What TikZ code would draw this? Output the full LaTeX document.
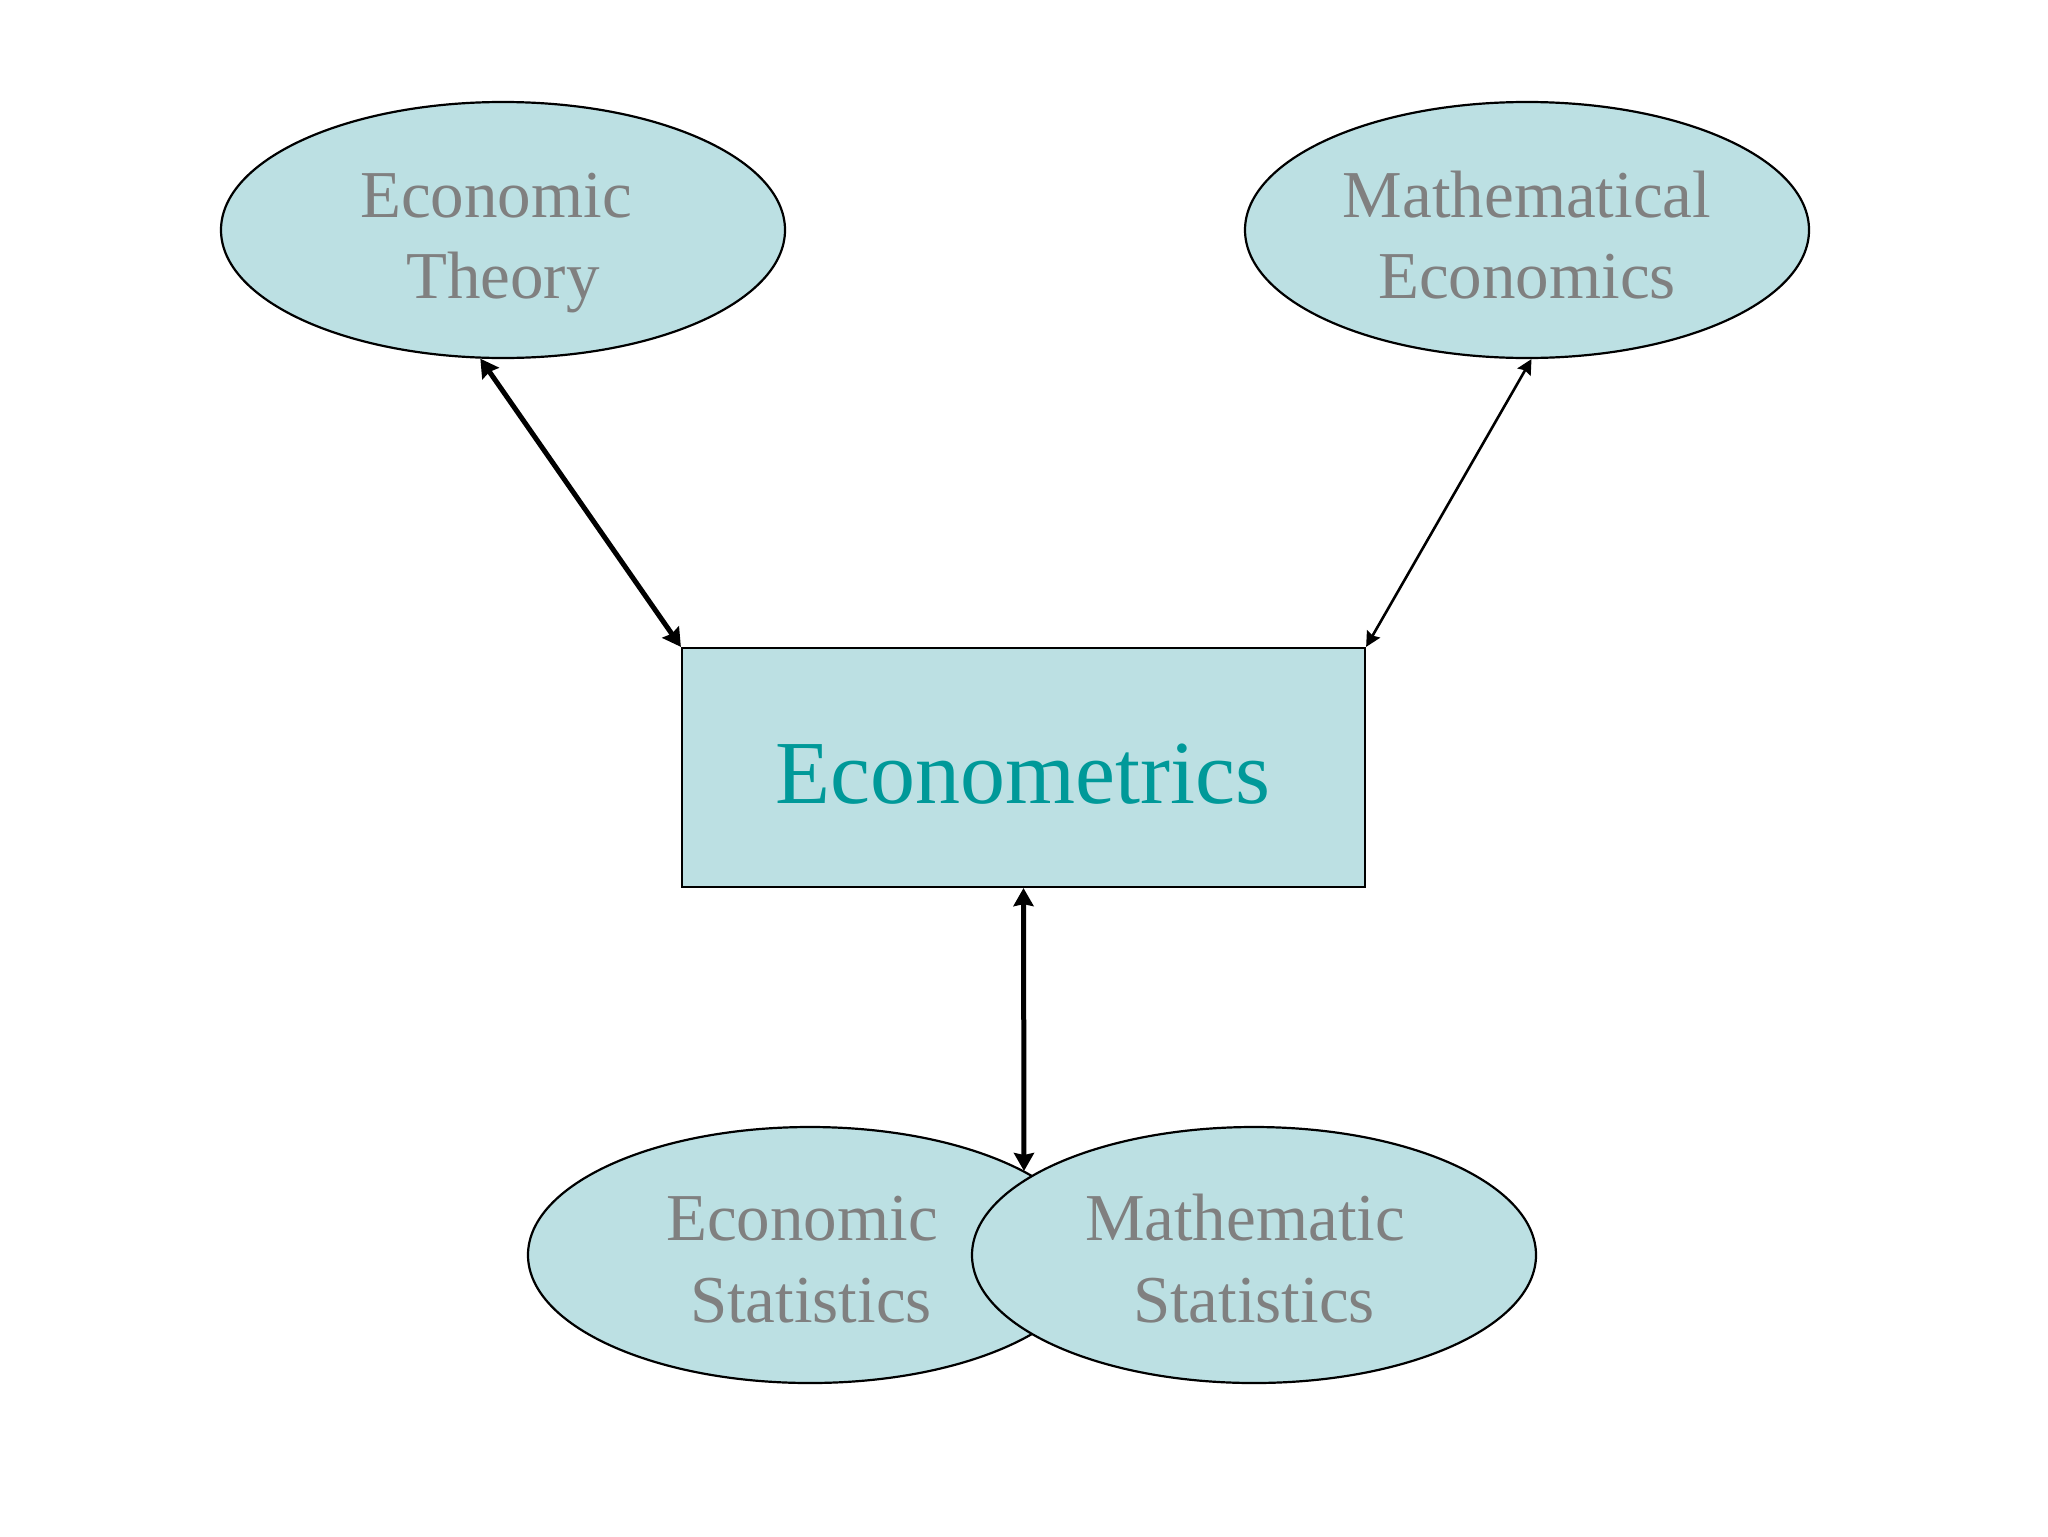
\documentclass[tikz,border=0pt]{standalone}
\usepackage{fontspec}
\setmainfont{Liberation Serif}
\usetikzlibrary{arrows.meta,shapes.geometric}
\definecolor{fillc}{RGB}{188,224,227}
\definecolor{txtgray}{RGB}{128,128,128}
\definecolor{tealtxt}{RGB}{0,153,153}
\begin{document}
\begin{tikzpicture}[x=0.5pt,y=-0.5pt,
  oval/.style={ellipse, draw=black, line width=1.1pt, fill=fillc, minimum width=282pt, minimum height=128pt, inner sep=0pt},
  box/.style={rectangle, draw=black, line width=1.1pt, fill=fillc, minimum width=341.5pt, minimum height=119.5pt, inner sep=0pt},
  lbl/.style={anchor=base, text=txtgray, font=\fontsize{33.5}{40}\selectfont, inner sep=0pt},
  biglbl/.style={anchor=base, text=tealtxt, font=\fontsize{45}{54}\selectfont, inner sep=0pt},
  bigarrow/.style={line width=2.5pt, {Stealth[length=9pt,width=10pt,inset=1pt]}-{Stealth[length=9pt,width=10pt,inset=1pt]}},
  thinarrow/.style={line width=1.3pt, {Stealth[length=7.5pt,width=7.5pt,inset=1pt]}-{Stealth[length=7.5pt,width=7.5pt,inset=1pt]}}]
\useasboundingbox[fill=white] (0,0) rectangle (2048,1536);

\node[oval] (et) at (503,230) {};
\node[lbl] (et1) at (496,217) {Economic};
\node[lbl] (et2) at (503,298) {Theory};

\node[oval] (me) at (1527,230) {};
\node[lbl] (me1) at (1527,217) {Mathematical};
\node[lbl] (me2) at (1527,298) {Economics};

\node[box] (ec) at (1023.5,767.5) {};
\node[biglbl] (ect) at (1023,803) {Econometrics};

\node[oval] (es) at (810,1255) {};
\node[lbl] (es1) at (802,1240) {Economic};
\node[lbl] (es2) at (811,1322) {Statistics};

\node[oval] (ms) at (1254,1255) {};
\node[lbl] (ms1) at (1245,1240) {Mathematic};
\node[lbl] (ms2) at (1254,1322) {Statistics};

\coordinate (meet) at (1024,1171);

\draw[bigarrow] (et.260) -- (ec.north west);
\draw[thinarrow] (me.272) -- (ec.north east);
\draw[bigarrow] (ec.south) -- (meet);
\end{tikzpicture}
\end{document}
